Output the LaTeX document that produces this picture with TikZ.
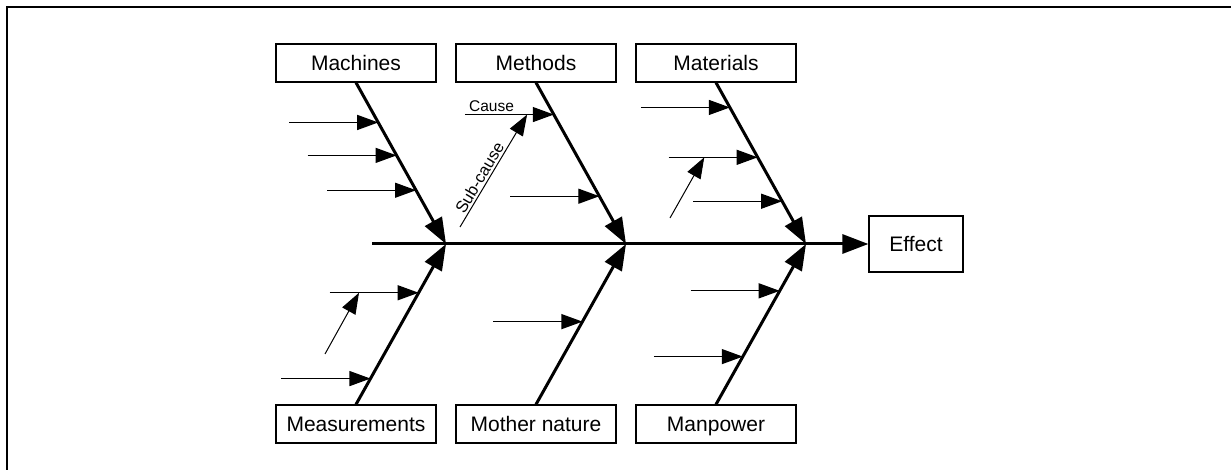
\documentclass[tikz,border=0pt]{standalone}
\usepackage{fontspec}
\setmainfont{Liberation Sans}
\usetikzlibrary{arrows.meta,calc}
\begin{document}
\begin{tikzpicture}[x=1pt,y=-1pt,
  category/.style={draw, line width=1.2pt, minimum width=160pt, minimum height=38pt,
                   inner sep=0pt, text height=17pt, text depth=2pt,
                   font=\fontsize{21}{24}\selectfont},
  effectbox/.style={category, minimum width=94pt, minimum height=56pt},
  bone/.style={line width=3pt, -{Triangle[length=26pt,width=19pt]}},
  cause/.style={line width=1.2pt, -{Triangle[length=21pt,width=15pt]}},
  subcause/.style={line width=1pt, -{Triangle[length=21pt,width=15pt]}},
  small/.style={font=\fontsize{15.5}{18}\selectfont, inner sep=2pt}]
\useasboundingbox (0,0) rectangle (1231,470);
% frame
\draw[line width=2.2pt] (7,470) -- (7,7) -- (1231,7);

% category boxes and effect
\node[category] (mach) at (356,63) {Machines};
\node[category] (meth) at (536,63) {Methods};
\node[category] (mate) at (716,63) {Materials};
\node[category] (meas) at (356,424) {Measurements};
\node[category] (moth) at (536,424) {Mother nature};
\node[category] (manp) at (716,424) {Manpower};
\node[effectbox] (eff) at (916,244) {Effect};

% spine and joints
\coordinate (sp) at (372,244);
\coordinate (j1) at (446,244);
\coordinate (j2) at (626,244);
\coordinate (j3) at (806,244);
\draw[bone] (sp) -- (eff.west);

% main bones
\draw[bone] (mach.south) -- (j1);
\draw[bone] (meth.south) -- (j2);
\draw[bone] (mate.south) -- (j3);
\draw[bone] (meas.north) -- (j1);
\draw[bone] (moth.north) -- (j2);
\draw[bone] (manp.north) -- (j3);

% cause arrows: end points on the bones
\coordinate (a1) at ($(mach.south)!0.247!(j1)$);
\coordinate (a2) at ($(mach.south)!0.451!(j1)$);
\coordinate (a3) at ($(mach.south)!0.667!(j1)$);
\coordinate (b1) at ($(meth.south)!0.198!(j2)$);
\coordinate (b2) at ($(meth.south)!0.704!(j2)$);
\coordinate (c1) at ($(mate.south)!0.154!(j3)$);
\coordinate (c2) at ($(mate.south)!0.463!(j3)$);
\coordinate (c3) at ($(mate.south)!0.735!(j3)$);
\coordinate (d1) at ($(meas.north)!0.696!(j1)$);
\coordinate (d2) at ($(meas.north)!0.161!(j1)$);
\coordinate (e1) at ($(moth.north)!0.516!(j2)$);
\coordinate (f1) at ($(manp.north)!0.708!(j3)$);
\coordinate (f2) at ($(manp.north)!0.298!(j3)$);

\foreach \p in {a1,a2,a3,b1,b2,c1,c2,c3,d1,d2,e1,f1,f2}{
  \coordinate (\p s) at ($(\p)+(-89,0)$);
}
\foreach \p in {a1,a2,a3,b2,c1,c2,c3,d1,d2,e1,f1,f2}{
  \draw[cause] (\p s) -- (\p);
}
\draw[cause] (b1s) -- node[small, pos=0.3, above] (lc) {Cause} (b1);

% sub-cause arrows
\coordinate (sb) at ($(b1s)!0.70!(b1)$);
\coordinate (sbs) at (460,227);
\draw[subcause] (sbs) -- node[small, font=\fontsize{16.5}{19}\selectfont,
  pos=0.4, sloped, above] (ls) {Sub-cause} (sb);

\coordinate (sc) at ($(c2s)!0.40!(c2)$);
\coordinate (scs) at (670,218);
\draw[subcause] (scs) -- (sc);

\coordinate (sd) at ($(d1s)!0.33!(d1)$);
\coordinate (sds) at (325,354);
\draw[subcause] (sds) -- (sd);
\end{tikzpicture}
\end{document}
